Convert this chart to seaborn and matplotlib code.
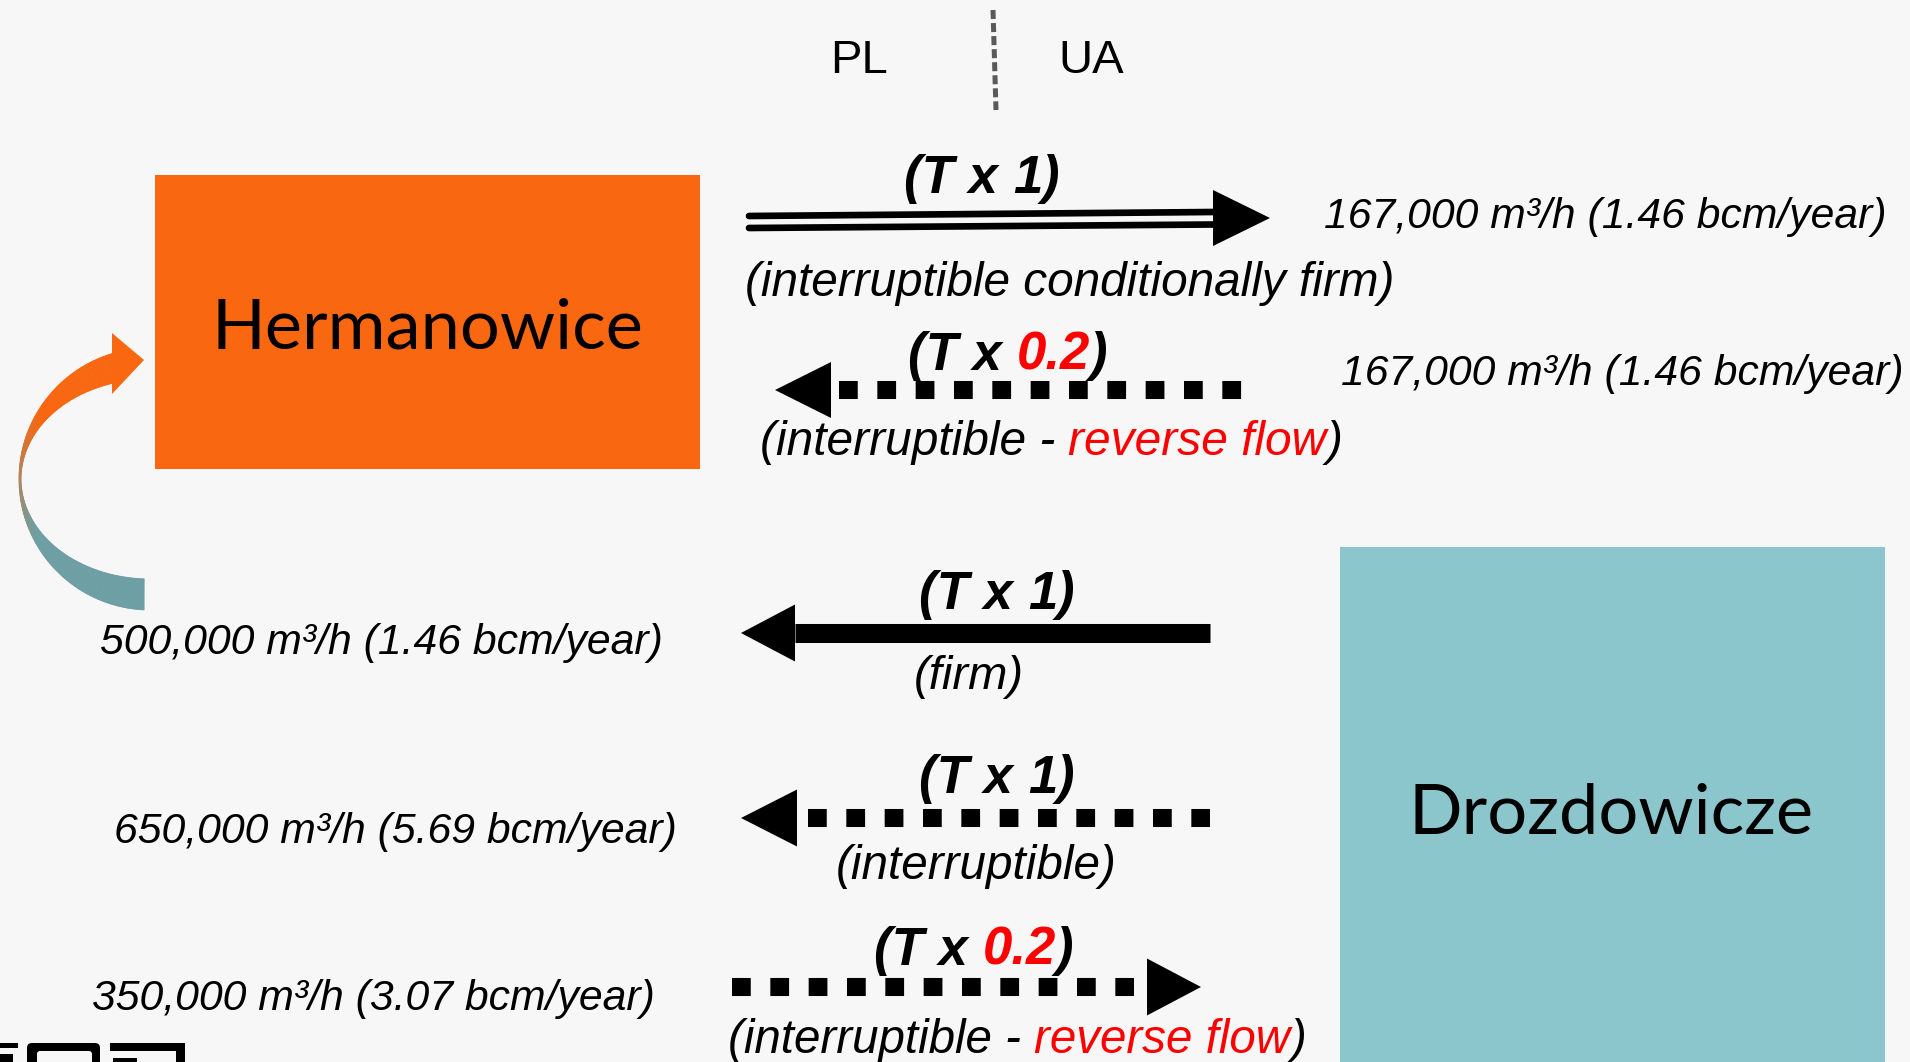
import numpy as np
import matplotlib
matplotlib.use("Agg")
import matplotlib.pyplot as plt
import seaborn as sns
from matplotlib.patches import Polygon, Rectangle, FancyBboxPatch
from matplotlib.collections import PolyCollection
from matplotlib.colors import to_rgb

sns.set_theme(style="white")
plt.rcParams['font.family'] = ['Liberation Sans', 'DejaVu Sans']
plt.rcParams['lines.scale_dashes'] = False

# ---------------- data ----------------
countries = ["PL", "UA"]
stations = ["Hermanowice", "Drozdowicze"]
factor_prefix = "(T x "
flow_factors = ["1", "0.2", "1", "1", "0.2"]
factor_highlight = [False, True, False, False, True]
flow_values = ["167,000 m³/h (1.46 bcm/year)",
               "167,000 m³/h (1.46 bcm/year)",
               "500,000 m³/h (1.46 bcm/year)",
               "650,000 m³/h (5.69 bcm/year)",
               "350,000 m³/h (3.07 bcm/year)"]
flow_kind_main = ["interruptible conditionally firm", "interruptible", "firm",
                  "interruptible", "interruptible"]
flow_kind_extra = ["", "reverse flow", "", "", "reverse flow"]
flow_style = ["double", "dashed", "solid", "dashed", "dashed"]
flow_to_ua = [True, False, False, False, True]

# ---------------- styling / layout ----------------
BG = "#f7f7f7"
ORANGE = "#f96710"
TEAL_BOX = "#8ac6cc"
TEAL_ARC = "#6e9fa5"
RED = "#ff0000"
W, H = 1910, 1062

arrow_y = [221, 390, 633, 818, 987]
shaft_x = [(749, 1213), (839, 1244), (795, 1210), (808, 1210), (732, 1134)]
head_base = [1213, 831, 795, 797, 1147]
head_tip = [1270, 775, 741, 741, 1201]
head_half = [28, 28, 28.5, 28.5, 28.5]
factor_xy = [(982, 179), (1008, 356), (997, 595), (997, 779), (974, 951)]
kind_xy = [(1070, 284), (1051, 443), (969, 677), (976, 867), (1017, 1041)]
kind_w = [650, 582, 110, 280, 578]
value_xy = [(1324, 217), (1341, 374), (100, 643), (114, 832), (92, 999)]
value_w = [561, 561, 563, 562, 563]

fig = plt.figure(figsize=(W / 100, H / 100), dpi=100)
fig.patch.set_facecolor(BG)
ax = fig.add_axes([0, 0, 1, 1])
ax.set_facecolor(BG)
ax.set_xlim(0, W)
ax.set_ylim(H, 0)
ax.axis("off")
renderer = fig.canvas.get_renderer()


def text_width(s, **kw):
    t = ax.text(0, 0, s, **kw)
    w = t.get_window_extent(renderer).width
    t.remove()
    return w


def fit_size(s, target, base=30, **kw):
    return base * target / text_width(s, fontsize=base, **kw)


def rich_text(x, y_center, parts, size, ha="center", **kw):
    full = "".join(p for p, _ in parts)
    total = text_width(full, fontsize=size, **kw)
    x0 = x - total / 2 if ha == "center" else x
    base = y_center + 0.26 * size * 100 / 72
    for i, (s, c) in enumerate(parts):
        rest = "".join(p for p, _ in parts[i:])
        off = total - text_width(rest, fontsize=size, **kw)
        ax.text(x0 + off, base, s, color=c, fontsize=size, ha="left",
                va="baseline", **kw)


# ---------------- border line ----------------
sns.lineplot(x=[993, 996], y=[10, 110], ax=ax, color="#5a5a5a", linewidth=3.6,
             linestyle=(0, (6.5, 2.9)), estimator=None, sort=False)
ax.text(859, 61, countries[0], fontsize=34, ha="center", va="center", color="black")
ax.text(1091, 61, countries[1], fontsize=34, ha="center", va="center", color="black")

# ---------------- station boxes ----------------
ax.add_patch(Rectangle((155, 175), 545, 294, facecolor=ORANGE, edgecolor="none"))
ax.add_patch(Rectangle((1340, 547), 545, 600, facecolor=TEAL_BOX, edgecolor="none"))
st_fs = fit_size(stations[0], 431, family="Lato")
ax.text(427, 323, stations[0], fontsize=st_fs, family="Lato", ha="center",
        va="center_baseline", color="black")
ax.text(1611, 808, stations[1], fontsize=st_fs, family="Lato", ha="center",
        va="center_baseline", color="black")

# ---------------- flows ----------------
for i in range(5):
    y = arrow_y[i]
    x0, x1 = shaft_x[i]
    if flow_style[i] == "double":
        sns.lineplot(x=[x0, x1], y=[y - 5, y - 9], ax=ax, color="black",
                     linewidth=4.8, estimator=None, sort=False)
        sns.lineplot(x=[x0, x1], y=[y + 7, y + 3.5], ax=ax, color="black",
                     linewidth=4.8, estimator=None, sort=False)
        hy = y - 3
    elif flow_style[i] == "solid":
        sns.lineplot(x=[x0, x1], y=[y, y], ax=ax, color="black",
                     linewidth=13.7, estimator=None, sort=False,
                     solid_capstyle="butt")
        hy = y
    else:
        sns.lineplot(x=[x0, x1], y=[y, y], ax=ax, color="black",
                     linewidth=13.0, linestyle=(0, (13.5, 14.1)),
                     estimator=None, sort=False, dash_capstyle="butt")
        hy = y
    b, tip, hh = head_base[i], head_tip[i], head_half[i]
    ax.add_patch(Polygon([(b, hy - hh), (b, hy + hh), (tip, hy)], closed=True,
                         facecolor="black", edgecolor="none"))

    # factor label
    fparts = [(factor_prefix, "black"),
              (flow_factors[i], RED if factor_highlight[i] else "black"),
              (")", "black")]
    rich_text(factor_xy[i][0], factor_xy[i][1], fparts, 38,
              fontweight="bold", fontstyle="italic")

    # kind label
    if flow_kind_extra[i]:
        kparts = [("(" + flow_kind_main[i] + " - ", "black"),
                  (flow_kind_extra[i], RED), (")", "black")]
    else:
        kparts = [("(" + flow_kind_main[i] + ")", "black")]
    kfull = "".join(p for p, _ in kparts)
    ks = fit_size(kfull, kind_w[i], fontstyle="italic")
    rich_text(kind_xy[i][0], kind_xy[i][1], kparts, ks, fontstyle="italic")

    # value label
    vs = fit_size(flow_values[i], value_w[i], fontstyle="italic")
    rich_text(value_xy[i][0], value_xy[i][1], [(flow_values[i], "black")], vs,
              ha="left", fontstyle="italic")

# ---------------- curved gradient arrow ----------------
cx, cy = 150, 479
t = np.radians(np.linspace(-87.4, 73.5, 240))
ox, oy = cx - 131 * np.cos(t), cy - 131 * np.sin(t)
ix, iy = cx - 129 * np.cos(t), cy - 100 * np.sin(t)
c_top, c_bot = np.array(to_rgb(ORANGE)), np.array(to_rgb(TEAL_ARC))
polys, cols = [], []
for k in range(len(t) - 1):
    polys.append([(ox[k], oy[k]), (ox[k + 1], oy[k + 1]),
                  (ix[k + 1], iy[k + 1]), (ix[k], iy[k])])
    ym = (oy[k] + iy[k] + oy[k + 1] + iy[k + 1]) / 4
    f = np.clip((ym - 415) / (535 - 415), 0, 1)
    cols.append(c_top * (1 - f) + c_bot * f)
ax.add_collection(PolyCollection(polys, facecolors=cols, edgecolors=cols,
                                 linewidths=0.6))
ax.add_patch(Polygon([(112, 333), (112, 394), (144, 360)], closed=True,
                     facecolor=ORANGE, edgecolor="none"))

# ---------------- partial logo at bottom-left ----------------
ax.add_patch(Rectangle((0, 1043), 18, 4.5, facecolor="black", edgecolor="none"))
ax.add_patch(Rectangle((0, 1054), 13, 9, facecolor="black", edgecolor="none"))
ax.add_patch(FancyBboxPatch((27, 1043), 73, 30, boxstyle="round,pad=0,rounding_size=5",
                            facecolor="black", edgecolor="none"))
ax.add_patch(FancyBboxPatch((37, 1051), 55, 30, boxstyle="round,pad=0,rounding_size=3",
                            facecolor=BG, edgecolor="none"))
ax.add_patch(Rectangle((110, 1043), 75, 8, facecolor="black", edgecolor="none"))
ax.add_patch(Rectangle((176, 1043), 9, 25, facecolor="black", edgecolor="none"))
ax.add_patch(Rectangle((113, 1058), 24, 5, facecolor="black", edgecolor="none"))

fig.savefig("out.png", dpi=100, facecolor=BG)
